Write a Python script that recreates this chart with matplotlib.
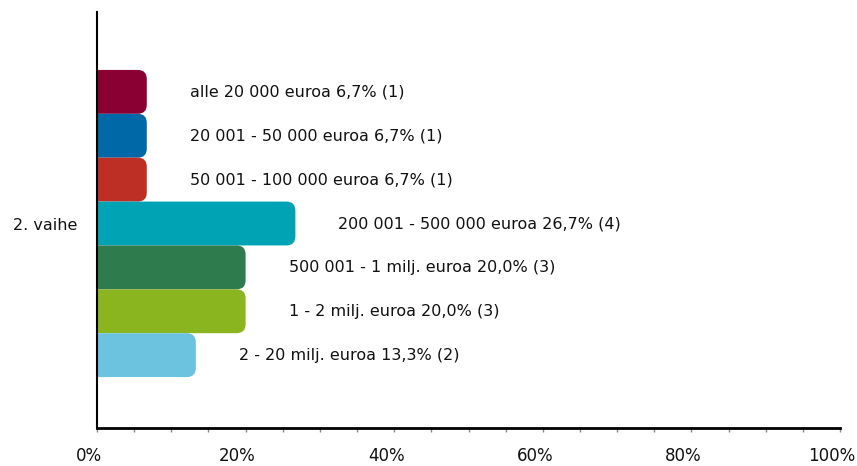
import matplotlib
matplotlib.use("Agg")
from matplotlib import pyplot as plt
from matplotlib.patches import FancyBboxPatch
from matplotlib.ticker import MultipleLocator, FuncFormatter
import matplotlib.transforms as mtransforms

group = "2. vaihe"
categories = [
    "alle 20 000 euroa",
    "20 001 - 50 000 euroa",
    "50 001 - 100 000 euroa",
    "200 001 - 500 000 euroa",
    "500 001 - 1 milj. euroa",
    "1 - 2 milj. euroa",
    "2 - 20 milj. euroa",
]
percents = [6.7, 6.7, 6.7, 26.7, 20.0, 20.0, 13.3]
counts = [1, 1, 1, 4, 3, 3, 2]
colors = ["#8a0032", "#0068a6", "#bd2f25", "#00a3b3", "#2e7c4e", "#8bb51f", "#6cc3df"]

fig = plt.figure(figsize=(8.57, 4.66), dpi=100)
ax = fig.add_axes([97 / 857, 1 - 428 / 466, 743 / 857, 416 / 466])

ax.set_xlim(0, 100)
ax.set_ylim(7.66, -1.82)

# px per data unit, used for rounded corners
px_x = 743 / 100
px_y = 416 / (7.66 + 1.82)
radius_px = 9

for i, (p, c) in enumerate(zip(percents, colors)):
    ext = 3.0
    box = FancyBboxPatch(
        (-ext, i - 0.5), p + ext, 1.0,
        boxstyle="round,pad=0,rounding_size=%f" % (radius_px / px_x),
        mutation_aspect=px_x / px_y,
        facecolor=c, edgecolor="none", zorder=2,
    )
    ax.add_patch(box)
    label = "%s %s%% (%d)" % (categories[i], ("%.1f" % p).replace(".", ","), counts[i])
    ax.text(p + 43 / px_x, i, label, va="center", ha="left", fontsize=11.5, color="#111111")

ax.spines["top"].set_visible(False)
ax.spines["right"].set_visible(False)
ax.spines["left"].set_linewidth(1.5)
ax.spines["bottom"].set_linewidth(2)
ax.spines["left"].set_zorder(3)

ax.set_yticks([3])
ax.set_yticklabels([group], fontsize=11.5, color="#111111")
ax.tick_params(axis="y", length=0, pad=14.4)

ax.xaxis.set_major_locator(MultipleLocator(20))
ax.xaxis.set_minor_locator(MultipleLocator(5))
ax.xaxis.set_major_formatter(FuncFormatter(lambda v, pos: "%d%%" % v))
ax.tick_params(axis="x", which="both", length=3, width=1, color="#888888",
               labelsize=12, labelcolor="#111111", pad=11)

offset = mtransforms.ScaledTranslation(-8 / 100, 0, fig.dpi_scale_trans)
for lab in ax.get_xticklabels():
    lab.set_transform(lab.get_transform() + offset)

plt.savefig("out.png", dpi=100)
